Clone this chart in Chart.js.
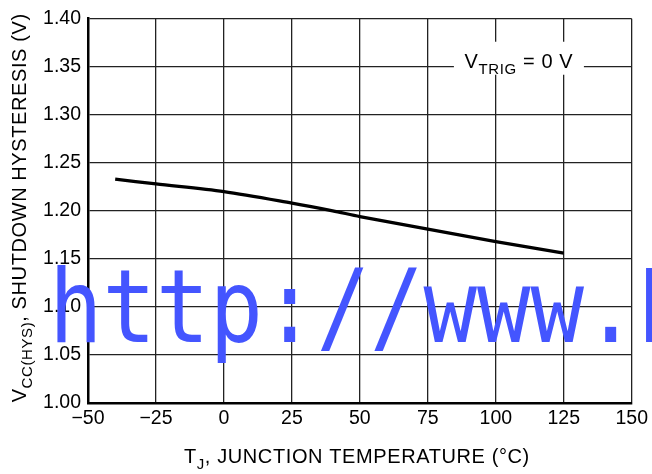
<!DOCTYPE html>
<html>
<head>
<meta charset="utf-8">
<script src="https://cdn.jsdelivr.net/npm/chart.js@4/dist/chart.umd.min.js"></script>
<style>
  html, body { margin: 0; padding: 0; background: #fff; }
</style>
</head>
<body>
<canvas id="chart" width="652" height="474"></canvas>
<script>
// data
var temps = [-40, -25, 0, 25, 40, 50, 75, 100, 125];
var hyst = [1.233, 1.228, 1.220, 1.208, 1.200, 1.194, 1.181, 1.168, 1.156];
var xTicks = [-50, -25, 0, 25, 50, 75, 100, 125, 150];
var yTicks = [1.00, 1.05, 1.10, 1.15, 1.20, 1.25, 1.30, 1.35, 1.40];

var FONT = '"Liberation Sans", Arial, sans-serif';

// draw text with subscript parts: [[text, isSub], ...]
function subText(ctx, parts, x, y, size, align) {
    var total = 0;
    parts.forEach(function(p) {
        ctx.font = (p[1] ? size * 0.75 : size) + 'px ' + FONT;
        total += ctx.measureText(p[0]).width;
    });
    var cx = align == 'center' ? x - total / 2 : x;
    ctx.textAlign = 'left';
    ctx.textBaseline = 'alphabetic';
    parts.forEach(function(p) {
        ctx.font = (p[1] ? size * 0.75 : size) + 'px ' + FONT;
        ctx.fillText(p[0], cx, p[1] ? y + size * 0.3 : y);
        cx += ctx.measureText(p[0]).width;
    });
}

var labels = {
    id: 'labels',
    afterDatasetsDraw: function(chart) {
        var ctx = chart.ctx;
        var xs = chart.scales.x, ys = chart.scales.y;
        ctx.save();
        ctx.letterSpacing = '0.6px';

        // annotation box
        var ax = xs.getPixelForValue(108.5), ay = ys.getPixelForValue(1.35);
        ctx.fillStyle = '#fff';
        ctx.fillRect(ax - 65, ay - 25, 130, 33);
        ctx.fillStyle = '#000';
        subText(ctx, [['V', false], ['TRIG', true], [' = 0 V', false]], ax, ay + 1, 20, 'center');

        // x title
        var cx = (chart.chartArea.left + chart.chartArea.right) / 2;
        subText(ctx, [['T', false], ['J', true], [', JUNCTION TEMPERATURE (\u00B0C)', false]], cx - 3, 463, 20, 'center');

        // y title
        var cy = (chart.chartArea.top + chart.chartArea.bottom) / 2;
        ctx.translate(26, cy - 3);
        ctx.rotate(-Math.PI / 2);
        subText(ctx, [['V', false], ['CC(HYS)', true], [', SHUTDOWN HYSTERESIS (V)', false]], 0, 0, 20, 'center');
        ctx.restore();
    },
    afterDraw: function(chart) {
        // blue watermark over the plot
        var ctx = chart.ctx;
        ctx.save();
        ctx.translate(49, 342);
        ctx.scale(0.88, 1);
        ctx.font = '101px "DejaVu Sans Mono", monospace';
        ctx.fillStyle = 'rgb(68, 85, 255)';
        ctx.textAlign = 'left';
        ctx.textBaseline = 'alphabetic';
        ctx.fillText('http://www.E', 0, 0);
        ctx.restore();
    }
};

new Chart(document.getElementById('chart'), {
    type: 'line',
    data: {
        datasets: [{
            data: temps.map(function(t, i) { return { x: t, y: hyst[i] }; }),
            borderColor: '#000',
            borderWidth: 3.2,
            pointRadius: 0,
            tension: 0.3,
            fill: false
        }]
    },
    options: {
        responsive: false,
        animation: false,
        layout: { padding: { left: 0, top: 17, right: 18, bottom: 0 } },
        plugins: { legend: { display: false }, tooltip: { enabled: false } },
        scales: {
            x: {
                type: 'linear', min: -50, max: 150,
                afterBuildTicks: function(s) { s.ticks = xTicks.map(function(v) { return { value: v }; }); },
                afterFit: function(s) { s.height = 71; },
                grid: { color: '#222', lineWidth: 1.3, drawTicks: false },
                border: { color: '#000', width: 2.5 },
                ticks: {
                    color: '#000', padding: 4, maxRotation: 0,
                    font: { family: FONT, size: 19.5 },
                    callback: function(v) { return v < 0 ? '\u2212' + Math.abs(v) : v; }
                }
            },
            y: {
                min: 1.0, max: 1.4,
                afterBuildTicks: function(s) { s.ticks = yTicks.map(function(v) { return { value: v }; }); },
                afterFit: function(s) { s.width = 88; },
                grid: { color: '#222', lineWidth: 1.3, drawTicks: false },
                border: { color: '#000', width: 2.5 },
                ticks: {
                    color: '#000', padding: 7,
                    font: { family: FONT, size: 19.5 },
                    callback: function(v) { return v.toFixed(2); }
                }
            }
        }
    },
    plugins: [labels]
});
</script>
</body>
</html>
